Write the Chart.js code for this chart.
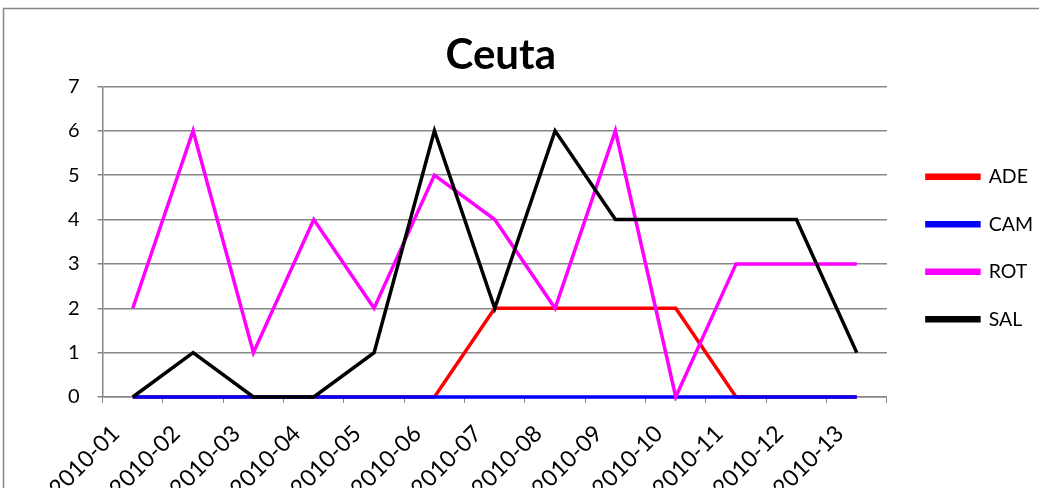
<!DOCTYPE html>
<html>
<head>
<meta charset="utf-8">
<script src="https://cdn.jsdelivr.net/npm/chart.js@4/dist/chart.umd.min.js"></script>
<style>
  html, body { margin: 0; padding: 0; background: #fff; }
  #wrap { width: 1039px; height: 488px; position: relative; }
</style>
</head>
<body>
<div id="wrap"><canvas id="myChart"></canvas></div>
<script>
// data
let Meses = ["2010-01", "2010-02", "2010-03", "2010-04", "2010-05", "2010-06", "2010-07",
             "2010-08", "2010-09", "2010-10", "2010-11", "2010-12", "2010-13"];
let ADE = [0, 0, 0, 0, 0, 0, 2, 2, 2, 2, 0, 0, 0];
let CAM = [0, 0, 0, 0, 0, 0, 0, 0, 0, 0, 0, 0, 0];
let ROT = [2, 6, 1, 4, 2, 5, 4, 2, 6, 0, 3, 3, 3];
let SAL = [0, 1, 0, 0, 1, 6, 2, 6, 4, 4, 4, 4, 1];

var gris = '#868686';
var fuente = 'Lato, "Open Sans", sans-serif';

// marco gris del grafico (como el borde de Excel)
const marco = {
    id: 'marco',
    beforeDraw(chart) {
        const ctx = chart.ctx;
        ctx.save();
        ctx.fillStyle = '#fff';
        ctx.fillRect(0, 0, chart.width, chart.height);
        ctx.strokeStyle = gris;
        ctx.lineWidth = 1.5;
        ctx.strokeRect(3.5, 8.5, 1200, 600);
        ctx.restore();
    }
};

// titulo centrado sobre el area del grafico y leyenda un poco mas a la derecha
const ajuste = {
    id: 'ajuste',
    afterLayout(chart) {
        const area = chart.chartArea;
        if (chart.titleBlock) {
            chart.titleBlock.left = area.left + 12;
            chart.titleBlock.right = area.right;
        }
        const lg = chart.legend;
        if (lg) {
            lg.left += 12; lg.right += 12;
            lg.top += 4; lg.bottom += 4;
        }
    }
};

function serie(nombre, valores, color, orden) {
    return {
        label: nombre,
        data: valores,
        borderColor: color,
        backgroundColor: color,
        borderWidth: 3.5,
        pointRadius: 0,
        tension: 0,
        fill: false,
        clip: 4,
        order: orden
    };
}

const data = {
    labels: Meses,
    datasets: [
        serie('ADE', ADE, '#ff0000', 3),
        serie('CAM', CAM, '#0000ff', 2),
        serie('ROT', ROT, '#ff00ff', 1),
        serie('SAL', SAL, '#000000', 0)
    ]
};

const config = {
    type: 'line',
    data: data,
    plugins: [marco, ajuste],
    options: {
        responsive: false,
        animation: false,
        layout: { padding: { left: 50, right: 8, top: 0, bottom: 0 } },
        plugins: {
            title: {
                display: true,
                text: 'Ceuta',
                color: '#000',
                font: { family: fuente, size: 42, weight: 'bold', lineHeight: 1.2 },
                padding: { top: 30, bottom: 6 }
            },
            legend: {
                position: 'right',
                labels: {
                    color: '#000',
                    font: { family: fuente, size: 19.5 },
                    boxWidth: 52,
                    boxHeight: 3,
                    padding: 28,
                    sort: (a, b) => a.datasetIndex - b.datasetIndex
                }
            },
            tooltip: { enabled: false }
        },
        scales: {
            x: {
                offset: true,
                grid: {
                    offset: true,
                    drawOnChartArea: false,
                    color: gris,
                    tickLength: 6
                },
                border: { color: gris, width: 1.5 },
                ticks: {
                    color: '#000',
                    font: { family: fuente, size: 23 },
                    maxRotation: 45,
                    minRotation: 45,
                    autoSkip: false,
                    padding: 17,
                    labelOffset: -17
                },
                afterFit: (scale) => { scale.height = 91; }
            },
            y: {
                min: 0,
                max: 7,
                ticks: {
                    stepSize: 1,
                    color: '#000',
                    font: { family: fuente, size: 20 },
                    padding: 18
                },
                grid: { color: gris, lineWidth: 1.5, tickLength: 5 },
                border: { color: gris, width: 1.5 }
            }
        }
    }
};

var canvas = document.getElementById('myChart');
canvas.width = 1039;
canvas.height = 488;
var myChart = new Chart(canvas, config);
</script>
</body>
</html>
